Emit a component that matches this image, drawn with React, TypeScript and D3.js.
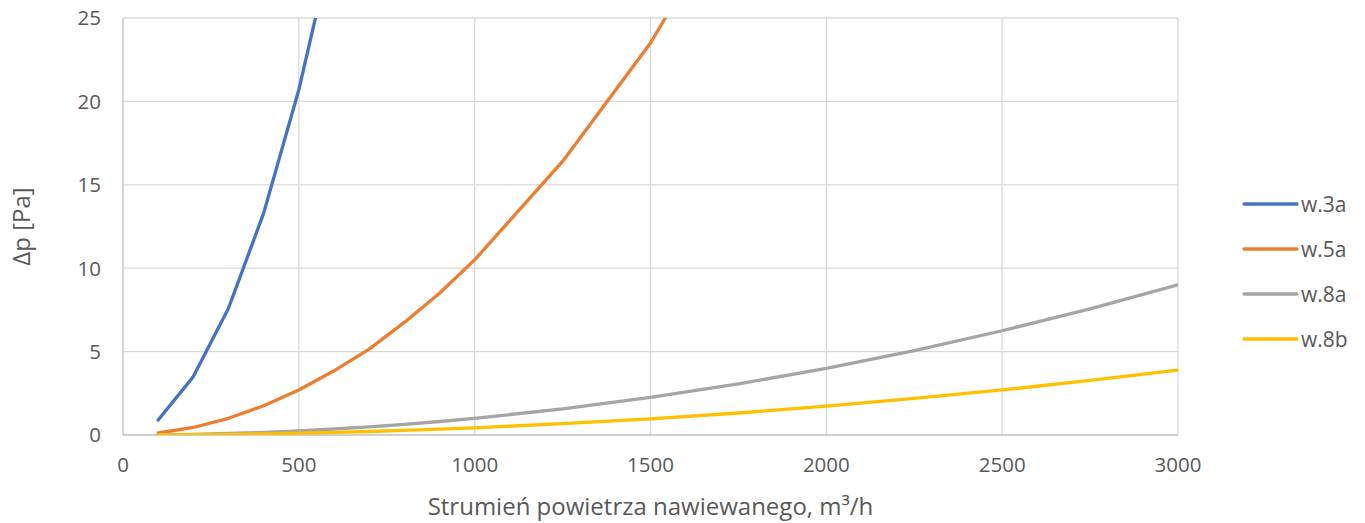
import React, { useEffect, useRef } from 'react';
import * as d3 from 'd3';

// flow rates [m3/h]
const flowShort = [100, 200, 300, 400, 500, 600];
const flowMid = [100, 200, 300, 400, 500, 600, 700, 800, 900, 1000, 1250, 1500, 1750];
const flowLong = [100, 200, 300, 400, 500, 600, 700, 800, 900, 1000, 1250, 1500, 1750, 2000, 2250, 2500, 2750, 3000];

// pressure drop [Pa]
const w3a = [0.9, 3.5, 7.6, 13.3, 20.7, 29.8];
const w5a = [0.12, 0.45, 1.0, 1.75, 2.7, 3.85, 5.15, 6.75, 8.5, 10.5, 16.4, 23.5, 32.4];
const w8a = [0.01, 0.04, 0.09, 0.16, 0.25, 0.36, 0.49, 0.64, 0.81, 1.0, 1.56, 2.25, 3.06, 4.0, 5.06, 6.25, 7.56, 9.0];
const w8b = [0.004, 0.017, 0.039, 0.07, 0.11, 0.16, 0.21, 0.28, 0.35, 0.43, 0.68, 0.97, 1.32, 1.73, 2.19, 2.7, 3.27, 3.89];

const seriesNames = ['w.3a', 'w.5a', 'w.8a', 'w.8b'];
const seriesColors = ['#4472C4', '#ED7D31', '#A5A5A5', '#FFC000'];

const xTicks = [0, 500, 1000, 1500, 2000, 2500, 3000];
const yTicks = [0, 5, 10, 15, 20, 25];

function App() {
  const svgRef = useRef<SVGSVGElement>(null);

  useEffect(() => {
    document.body.style.margin = '0';
    const width = 1365;
    const height = 523;
    const margin = { top: 18, right: 187, bottom: 88, left: 123 };
    const font = '"Open Sans", "Noto Sans", sans-serif';

    const root = d3.select(svgRef.current);
    root.selectAll('*').remove();
    const svg = root.attr('width', width).attr('height', height);

    const x = d3.scaleLinear().domain([0, 3000]).range([margin.left, width - margin.right]);
    const y = d3.scaleLinear().domain([0, 25]).range([height - margin.bottom, margin.top]);

    const series = [
      { name: seriesNames[0], xs: flowShort, ys: w3a },
      { name: seriesNames[1], xs: flowMid, ys: w5a },
      { name: seriesNames[2], xs: flowLong, ys: w8a },
      { name: seriesNames[3], xs: flowLong, ys: w8b },
    ];

    // gridlines
    svg.append('g')
      .selectAll('line')
      .data(yTicks.slice(1))
      .join('line')
      .attr('x1', x(0)).attr('x2', x(3000))
      .attr('y1', (d) => y(d)).attr('y2', (d) => y(d))
      .attr('stroke', '#d9d9d9').attr('stroke-width', 1.3);
    svg.append('g')
      .selectAll('line')
      .data(xTicks.slice(1))
      .join('line')
      .attr('x1', (d) => x(d)).attr('x2', (d) => x(d))
      .attr('y1', y(0)).attr('y2', y(25))
      .attr('stroke', '#d9d9d9').attr('stroke-width', 1.3);

    // axis lines
    svg.append('line')
      .attr('x1', x(0)).attr('x2', x(0)).attr('y1', y(0)).attr('y2', y(25))
      .attr('stroke', '#bfbfbf').attr('stroke-width', 1.3);
    svg.append('line')
      .attr('x1', x(0)).attr('x2', x(3000)).attr('y1', y(0)).attr('y2', y(0))
      .attr('stroke', '#bfbfbf').attr('stroke-width', 1.3);

    // tick labels
    svg.append('g')
      .selectAll('text')
      .data(yTicks)
      .join('text')
      .attr('x', x(0) - 22)
      .attr('y', (d) => y(d))
      .attr('dy', '0.36em')
      .attr('text-anchor', 'end')
      .style('font-family', font).style('font-size', '20.5px').style('fill', '#595959')
      .text((d) => d);
    svg.append('g')
      .selectAll('text')
      .data(xTicks)
      .join('text')
      .attr('x', (d) => x(d))
      .attr('y', y(0) + 30)
      .attr('dy', '0.36em')
      .attr('text-anchor', 'middle')
      .style('font-family', font).style('font-size', '20.5px').style('fill', '#595959')
      .text((d) => d);

    // axis titles
    svg.append('text')
      .attr('x', (x(0) + x(3000)) / 2)
      .attr('y', 515)
      .attr('text-anchor', 'middle')
      .style('font-family', font).style('font-size', '24px').style('fill', '#595959')
      .text('Strumień powietrza nawiewanego, m³/h');

    svg.append('text')
      .attr('transform', `translate(30,${(y(0) + y(25)) / 2}) rotate(-90)`)
      .attr('text-anchor', 'middle')
      .style('font-family', font).style('font-size', '24px').style('fill', '#595959')
      .text('Δp [Pa]');

    // lines, clipped to plot area
    svg.append('clipPath').attr('id', 'plot-clip')
      .append('rect')
      .attr('x', x(0)).attr('y', y(25))
      .attr('width', x(3000) - x(0)).attr('height', y(0) - y(25));

    const line = d3.line<[number, number]>()
      .x((d) => x(d[0]))
      .y((d) => y(d[1]));

    svg.append('g')
      .attr('clip-path', 'url(#plot-clip)')
      .selectAll('path')
      .data(series)
      .join('path')
      .attr('d', (s) => line(s.xs.map((v, i) => [v, s.ys[i]] as [number, number])))
      .attr('fill', 'none')
      .attr('stroke', (s, i) => seriesColors[i])
      .attr('stroke-width', 3.3)
      .attr('stroke-linejoin', 'round')
      .attr('stroke-linecap', 'round');

    // legend
    const legend = svg.append('g')
      .selectAll('g')
      .data(seriesNames)
      .join('g')
      .attr('transform', (d, i) => `translate(1244,${204 + i * 45})`);
    legend.append('line')
      .attr('x1', 0).attr('x2', 53)
      .attr('stroke', (d, i) => seriesColors[i])
      .attr('stroke-width', 3.3)
      .attr('stroke-linecap', 'round');
    legend.append('text')
      .attr('x', 57)
      .attr('dy', '0.36em')
      .style('font-family', font).style('font-size', '21px').style('fill', '#595959')
      .text((d) => d);
  }, []);

  return (
    <div>
      <svg ref={svgRef} style={{ display: 'block' }}></svg>
    </div>
  );
}

export default App;
